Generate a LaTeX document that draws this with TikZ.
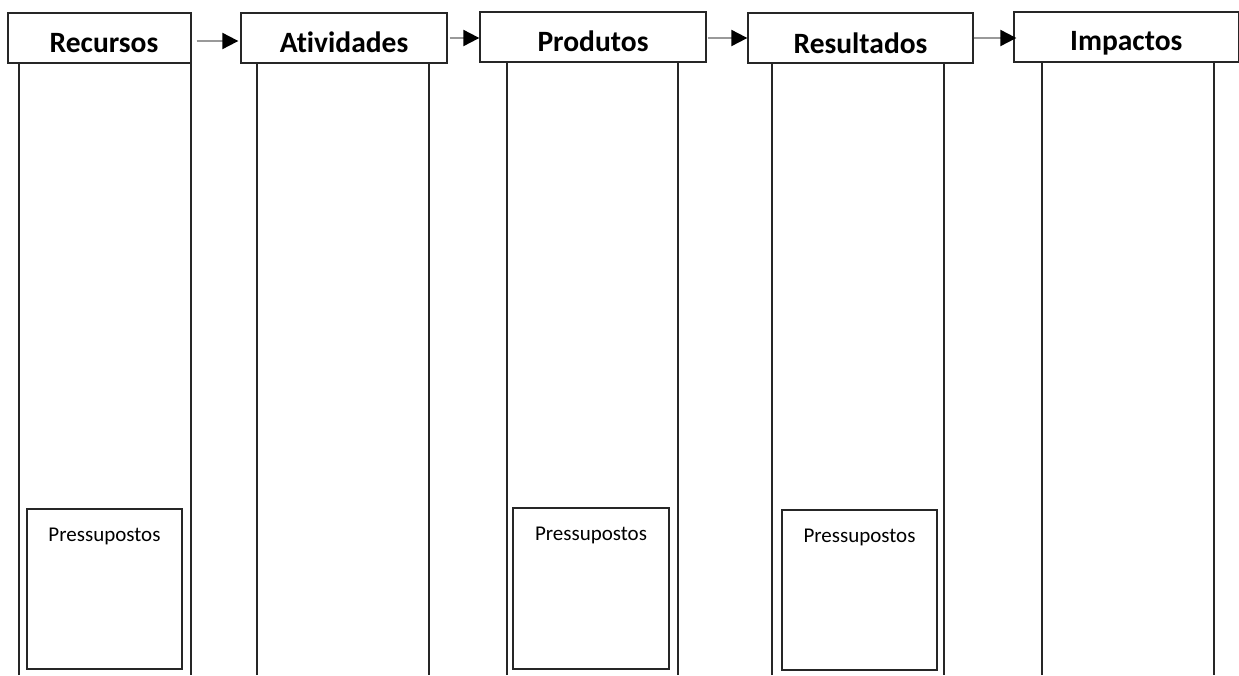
\documentclass[tikz,border=0pt]{standalone}
\usepackage{fontspec}
\setmainfont[Ligatures={NoCommon}]{Carlito}
\usetikzlibrary{arrows.meta,calc}
\begin{document}
\begin{tikzpicture}[x=1pt,y=-1pt,
  line/.style={line width=1.3pt, draw=black!85},
  hdr/.style={line, rectangle, inner sep=0pt, minimum height=50pt,
    font=\bfseries\fontsize{29.5}{31}\selectfont, text height=28pt, text depth=0pt},
  col/.style={line},
  pbox/.style={line, rectangle, inner sep=0pt},
  ptext/.style={font=\fontsize{21}{24}\selectfont, anchor=base, inner sep=0pt},
  flow/.style={draw=black!40, line width=2pt, -{Triangle[length=16pt,width=16pt,color=black]}}]
\useasboundingbox (0,0) rectangle (1239,675);
\fill[white] (0,0) rectangle (1239,675);

% columns (open at the bottom)
\draw[col] (19,675) -- (19,63) -- (191,63) -- (191,675);
\draw[col] (257,675) -- (257,63) -- (429,63) -- (429,675);
\draw[col] (507,675) -- (507,62) -- (678,62) -- (678,675);
\draw[col] (772,675) -- (772,63) -- (944,63) -- (944,675);
\draw[col] (1042,675) -- (1042,62) -- (1214,62) -- (1214,675);

% header boxes
\node[hdr, minimum width=183pt, fill=white] (rec) at (99.5,38) {\hspace*{9pt}Recursos};
\node[hdr, minimum width=206pt, fill=white] (ati) at (344,38) {Atividades};
\node[hdr, minimum width=226pt, fill=white] (pro) at (593,37) {Produtos};
\node[hdr, minimum width=225pt, fill=white, text height=30pt] (res) at (860.5,38) {Resultados};
\node[hdr, minimum width=224.5pt, fill=white, text height=26pt] (imp) at (1126.25,37) {Impactos};

% arrows between headers
\draw[flow] ([xshift=5pt,yshift=-3pt]rec.east) -- ([xshift=-2pt,yshift=-3pt]rec.east -| ati.west);
\draw[flow] ([xshift=2pt]ati.east) -- (ati.east -| pro.west);
\draw[flow] ([xshift=1pt,yshift=-1pt]pro.east) -- ([yshift=-1pt]pro.east -| res.west);
\draw[flow] (res.east) -- ([xshift=3pt]res.east -| imp.west);

% Pressupostos boxes
\node[pbox, minimum width=155pt, minimum height=160pt] (p1) at (104.5,589) {};
\node[ptext] (t1) at ($(p1.north)+(0,33)$) {Pressupostos};
\node[pbox, minimum width=156pt, minimum height=161pt] (p2) at (591,588.5) {};
\node[ptext] (t2) at ($(p2.north)+(0,33)$) {Pressupostos};
\node[pbox, minimum width=155pt, minimum height=160pt] (p3) at (859.5,590) {};
\node[ptext] (t3) at ($(p3.north)+(0,33)$) {Pressupostos};
\end{tikzpicture}
\end{document}
